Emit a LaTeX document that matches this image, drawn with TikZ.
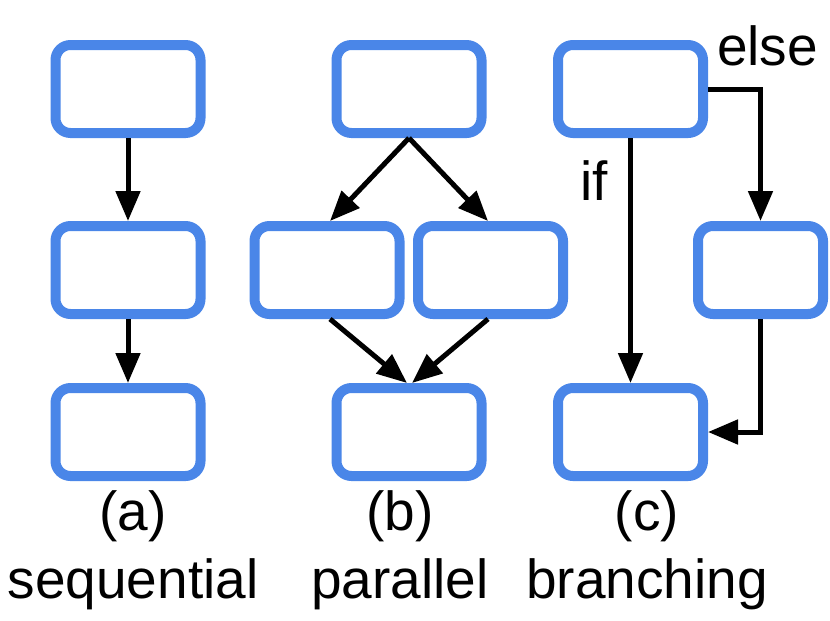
\documentclass[tikz,border=0pt]{standalone}
\usepackage{fontspec}
\setmainfont{Liberation Sans}
\usetikzlibrary{arrows.meta}
\definecolor{boxblue}{HTML}{4A86E8}
\tikzset{
  flowbox/.style={draw=boxblue, line width=10pt, rounded corners=15pt, rectangle, minimum width=145pt, minimum height=88pt, inner sep=0pt},
  narrowbox/.style={flowbox, minimum width=125pt},
  conn/.style={line width=5pt, -{Triangle[width=24pt,length=30pt]}},
  plainline/.style={line width=5pt},
  lbl/.style={inner sep=0pt, anchor=base, font=\fontsize{55}{60}\selectfont}
}
\begin{document}
\begin{tikzpicture}[x=1pt,y=-1pt]
\useasboundingbox (0,0) rectangle (830,621);
% (a)
\node[flowbox] (a1) at (128,89) {};
\node[flowbox] (a2) at (128,270) {};
\node[flowbox] (a3) at (128,432) {};
\draw[conn] (a1.south) -- (a2.north);
\draw[conn] (a2.south) -- (a3.north);
% (b)
\node[flowbox] (b1) at (409,89) {};
\node[flowbox] (b2) at (327,270) {};
\node[flowbox] (b3) at (490.5,270) {};
\node[flowbox] (b4) at (409,432) {};
\draw[conn] (b1.south) -- ([xshift=3pt]b2.north);
\draw[conn] (b1.south) -- ([xshift=-2.5pt]b3.north);
\draw[conn] ([xshift=3pt]b2.south) -- ([xshift=-2pt]b4.north);
\draw[conn] ([xshift=-2.5pt]b3.south) -- ([xshift=3pt]b4.north);
% (c)
\node[flowbox] (c1) at (630.5,89) {};
\node[narrowbox] (c2) at (760.5,270) {};
\node[flowbox] (c3) at (630.5,432) {};
\draw[conn] (c1.east) -| (c2.north);
\draw[conn] (c1.south) -- (c3.north);
\draw[conn] (c2.south) |- (c3.east);
\node[lbl, anchor=base west] (else) at (717,65) {else};
\node[lbl, anchor=base west] (if) at (580,200) {if};
% captions
\node[lbl] (capa) at (133,530) {(a)};
\node[lbl] (namea) at (133,598) {sequential};
\node[lbl] (capb) at (400,530) {(b)};
\node[lbl] (nameb) at (400,598) {parallel};
\node[lbl] (capc) at (647,530) {(c)};
\node[lbl] (namec) at (647,598) {branching};
\end{tikzpicture}
\end{document}
